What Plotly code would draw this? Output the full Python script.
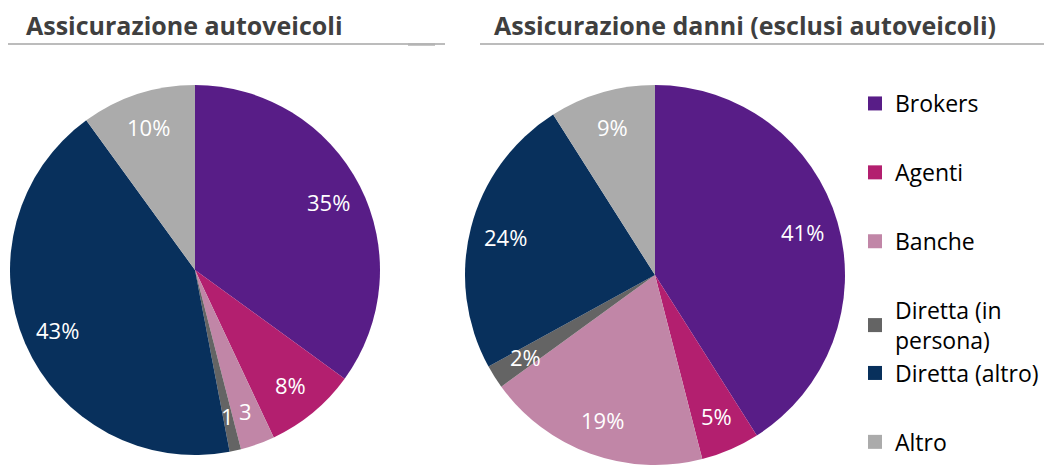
import math
import plotly.graph_objects as go

W, H = 1052, 466
OX, OY = 8, 8  # page body margin of the exported html

categories = ["Brokers", "Agenti", "Banche", "Diretta (in persona)", "Diretta (altro)", "Altro"]
legend_labels = ["Brokers", "Agenti", "Banche", "Diretta (in<br>persona)", "Diretta (altro)", "Altro"]
auto_values = [35, 8, 3, 1, 43, 10]
auto_text = ["35%", "8%", "3", "1", "43%", "10%"]
danni_values = [41, 5, 19, 2, 24, 9]
danni_text = ["41%", "5%", "19%", "2%", "24%", "9%"]
colors = ["#581d87", "#b31f6f", "#c186a7", "#646464", "#08305c", "#ababab"]
titles = ["Assicurazione autoveicoli", "Assicurazione danni (esclusi autoveicoli)"]

FONT = "Open Sans"
LABEL_R = 0.81  # radial position of slice labels (fraction of radius)


def px(x):
    return (x - OX) / W


def py(y):
    return 1 - (y - OY) / H


# pie geometry in screen pixels: (center x, center y, radius)
pies = [
    (auto_values, auto_text, (195, 270, 185)),
    (danni_values, danni_text, (655, 275, 190)),
]

fig = go.Figure()
annotations = []

for values, texts, (cx, cy, r) in pies:
    fig.add_trace(go.Pie(
        values=values, labels=categories, sort=False, direction="clockwise", rotation=0,
        marker=dict(colors=colors, line=dict(width=0)),
        textinfo="none", showlegend=False, hoverinfo="label+percent",
        domain=dict(x=[px(cx - r), px(cx + r)], y=[py(cy + r), py(cy - r)]),
    ))
    total = float(sum(values))
    cum = 0.0
    for v, t in zip(values, texts):
        theta = 2 * math.pi * (cum + v / 2.0) / total
        cum += v
        annotations.append(dict(
            text=t, x=px(cx + LABEL_R * r * math.sin(theta)), y=py(cy - LABEL_R * r * math.cos(theta)),
            xref="paper", yref="paper", xanchor="center", yanchor="middle", showarrow=False,
            font=dict(family=FONT, size=22, color="white")))

groups = ["g1", "g2", "g3", "g4", "g4", "g5"]
for lab, col, grp in zip(legend_labels, colors, groups):
    fig.add_trace(go.Scatter(x=[None], y=[None], mode="markers", name=lab,
                             legendgroup=grp, hoverinfo="skip",
                             marker=dict(symbol="square", size=14, color=col)))

annotations += [
    dict(text="<b>%s</b>" % titles[0], x=px(24), y=py(25), xref="paper", yref="paper",
         xanchor="left", yanchor="middle", showarrow=False,
         font=dict(family=FONT, size=25, color="#3f3f3f")),
    dict(text="<b>%s</b>" % titles[1], x=px(492), y=py(25), xref="paper", yref="paper",
         xanchor="left", yanchor="middle", showarrow=False,
         font=dict(family=FONT, size=25, color="#3f3f3f")),
]

fig.update_layout(
    width=W, height=H,
    margin=dict(l=0, r=0, t=0, b=0),
    paper_bgcolor="white", plot_bgcolor="white",
    xaxis=dict(visible=False), yaxis=dict(visible=False),
    legend=dict(x=px(855), y=py(82), xanchor="left", yanchor="top",
                font=dict(family=FONT, size=23, color="black"),
                tracegroupgap=36, itemclick=False, itemdoubleclick=False,
                bgcolor="rgba(0,0,0,0)"),
    annotations=annotations,
    shapes=[
        dict(type="line", xref="paper", yref="paper", x0=px(8), x1=px(445), y0=py(44), y1=py(44),
             line=dict(color="#a6a6a6", width=1.5)),
        dict(type="line", xref="paper", yref="paper", x0=px(408), x1=px(435), y0=py(44.5), y1=py(44.5),
             line=dict(color="#b4b4b4", width=2.5)),
        dict(type="line", xref="paper", yref="paper", x0=px(480), x1=px(1060), y0=py(44), y1=py(44),
             line=dict(color="#a6a6a6", width=1.5)),
    ],
)

fig.write_html("out.html")
